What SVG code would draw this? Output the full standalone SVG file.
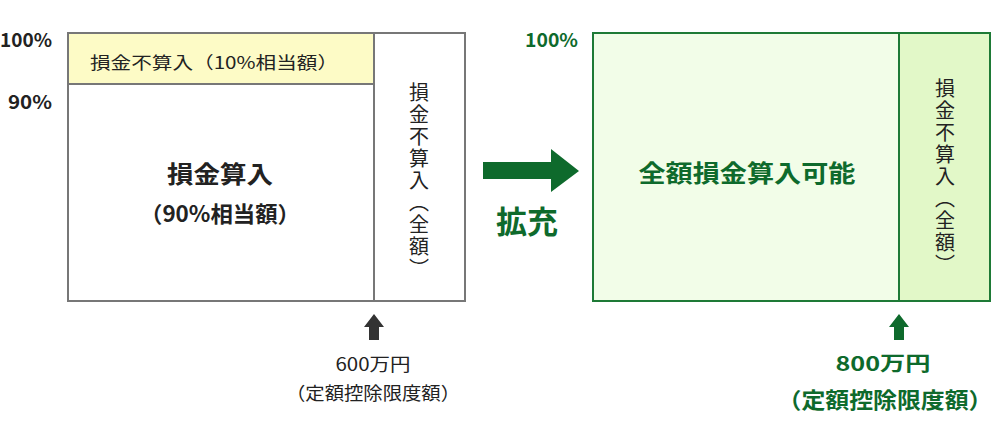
<svg xmlns="http://www.w3.org/2000/svg" width="1000" height="423" viewBox="0 0 1000 423">
<style>
text{font-family:"Noto Sans CJK JP","Noto Sans",sans-serif;dominant-baseline:central}
.k{fill:#222}
.g{fill:#0e6a2c}
.b{font-weight:bold}
.box{stroke:#777;stroke-width:2}
.gbox{stroke:#1e7a36;stroke-width:2}
.v{writing-mode:vertical-rl;font-size:20px;letter-spacing:2px}
</style>
<rect width="1000" height="423" fill="#fff"/>
<g id="labels-left">
<text class="k b" x="52" y="38" font-size="19" text-anchor="end" textLength="52" lengthAdjust="spacingAndGlyphs">100%</text>
<text class="k b" x="52" y="100" font-size="19" text-anchor="end" textLength="44" lengthAdjust="spacingAndGlyphs">90%</text>
</g>
<g id="left-box">
<rect class="box" x="68" y="33" width="397" height="268" fill="#fff"/>
<rect class="box" x="68" y="33" width="306" height="51" fill="#fdfbc6"/>
<line class="box" x1="374" y1="33" x2="374" y2="301"/>
<text class="k" x="90" y="61" font-size="17" textLength="248" lengthAdjust="spacingAndGlyphs">損金不算入（10%相当額）</text>
<text class="k b" x="220" y="172" font-size="24" text-anchor="middle" textLength="106" lengthAdjust="spacingAndGlyphs">損金算入</text>
<text class="k b" x="220" y="212" font-size="22" text-anchor="middle" textLength="160" lengthAdjust="spacingAndGlyphs">（90%相当額）</text>
<text class="k v" x="419" y="82">損金不算入（全額）</text>
</g>
<g id="expand">
<polygon class="g" points="483,162 551,162 551,149 579,171 551,192 551,179 483,179"/>
<text class="g b" x="527" y="219" font-size="31" text-anchor="middle">拡充</text>
</g>
<g id="right-box">
<text class="g b" x="578" y="38" font-size="19" text-anchor="end" textLength="53" lengthAdjust="spacingAndGlyphs">100%</text>
<rect class="gbox" x="593" y="33" width="397" height="268" fill="#f2fde8"/>
<rect class="gbox" x="899" y="33" width="91" height="268" fill="#e2f8c8"/>
<text class="g b" x="747" y="171" font-size="24" text-anchor="middle" textLength="217" lengthAdjust="spacingAndGlyphs">全額損金算入可能</text>
<text class="k v" x="945" y="78">損金不算入（全額）</text>
</g>
<g id="connectors">
<polygon fill="#333" points="374,314 384,327 379,327 379,340 369,340 369,327 364,327"/>
<polygon fill="#0e6a2c" points="899,314 909,327 904,327 904,340 894,340 894,327 889,327"/>
</g>
<g id="limits">
<text class="k" x="373" y="363" font-size="18" text-anchor="middle" textLength="75" lengthAdjust="spacingAndGlyphs">600万円</text>
<text class="k" x="373" y="392" font-size="18" text-anchor="middle" textLength="174" lengthAdjust="spacingAndGlyphs">（定額控除限度額）</text>
<text class="g b" x="883" y="362" font-size="20" text-anchor="middle" textLength="95" lengthAdjust="spacingAndGlyphs">800万円</text>
<text class="g b" x="885" y="398" font-size="22" text-anchor="middle" textLength="215" lengthAdjust="spacingAndGlyphs">（定額控除限度額）</text>
</g>
</svg>
